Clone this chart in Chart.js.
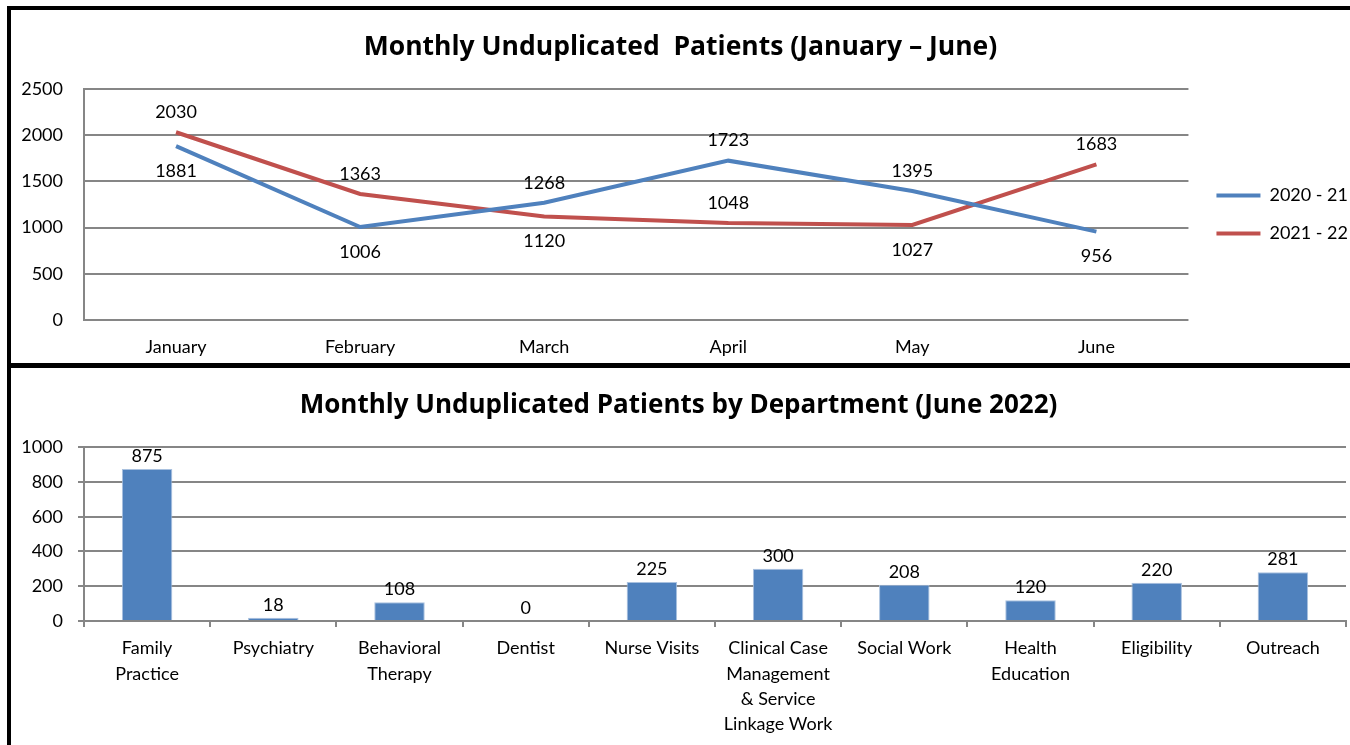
<!DOCTYPE html>
<html>
<head>
<meta charset="utf-8">
<script src="https://cdn.jsdelivr.net/npm/chart.js@4"></script>
<style>
  body { margin: 0; background: #fff; width: 1350px; height: 745px; overflow: hidden; position: relative; }
  .rule { position: absolute; background: #000; }
  canvas { position: absolute; }
</style>
</head>
<body>
<div class="rule" style="left:7px;top:6px;width:1343px;height:4px"></div>
<div class="rule" style="left:7px;top:6px;width:4px;height:739px"></div>
<div class="rule" style="left:7px;top:363px;width:1343px;height:5px"></div>
<canvas id="monthly" width="1339" height="353" style="left:11px;top:10px"></canvas>
<canvas id="dept" width="1339" height="377" style="left:11px;top:368px"></canvas>
<script>
// top chart data
const months = ['January', 'February', 'March', 'April', 'May', 'June'];
const year2021 = [1881, 1006, 1268, 1723, 1395, 956];
const year2122 = [2030, 1363, 1120, 1048, 1027, 1683];
const monthTicks = [0, 500, 1000, 1500, 2000, 2500];

// bottom chart data
const departments = [
  ['Family', 'Practice'], 'Psychiatry', ['Behavioral', 'Therapy'], 'Dentist', 'Nurse Visits',
  ['Clinical Case', 'Management', '& Service', 'Linkage Work'], 'Social Work',
  ['Health', 'Education'], 'Eligibility', 'Outreach'
];
const deptPatients = [875, 18, 108, 0, 225, 300, 208, 120, 220, 281];
const deptTicks = [0, 200, 400, 600, 800, 1000];

// where each value label sits relative to its point
const side2021 = ['below', 'below', 'above', 'above', 'above', 'below'];
const side2122 = ['above', 'above', 'below', 'above', 'below', 'above'];

const FONT = 'Lato';
const TITLE_FONT = 'Open Sans';
const GRID = '#868686';

const lineLabels = {
  id: 'lineLabels',
  afterDatasetsDraw(chart) {
    const ctx = chart.ctx;
    const sides = [side2021, side2122];
    ctx.save();
    ctx.font = '18px ' + FONT;
    ctx.fillStyle = '#000';
    ctx.textAlign = 'center';
    ctx.textBaseline = 'middle';
    chart.data.datasets.forEach((ds, i) => {
      chart.getDatasetMeta(i).data.forEach((pt, j) => {
        const dy = sides[i][j] === 'below' ? 25 : -20;
        ctx.fillText(ds.data[j], pt.x, pt.y + dy);
      });
    });
    ctx.restore();
  }
};

// nudge legend to where the original sits
const legendNudge = {
  id: 'legendNudge',
  afterLayout(chart) {
    const lg = chart.legend;
    lg.left += 8; lg.right += 8;
    lg.top += 10; lg.bottom += 10;
  }
};

const barLabels = {
  id: 'barLabels',
  afterDatasetsDraw(chart) {
    const ctx = chart.ctx;
    ctx.save();
    ctx.font = '18px ' + FONT;
    ctx.fillStyle = '#000';
    ctx.textAlign = 'center';
    ctx.textBaseline = 'middle';
    chart.getDatasetMeta(0).data.forEach((bar, j) => {
      ctx.fillText(chart.data.datasets[0].data[j], bar.x, bar.y - 13);
    });
    ctx.restore();
  }
};

const plain = v => String(v);

new Chart(document.getElementById('monthly'), {
  type: 'line',
  data: {
    labels: months,
    datasets: [{
      label: '2020 - 21',
      data: year2021,
      borderColor: '#4F81BD',
      backgroundColor: '#4F81BD',
      borderWidth: 4,
      pointRadius: 0,
      tension: 0
    }, {
      label: '2021 - 22',
      data: year2122,
      borderColor: '#C0504D',
      backgroundColor: '#C0504D',
      borderWidth: 4,
      pointRadius: 0,
      tension: 0
    }]
  },
  options: {
    responsive: false,
    animation: false,
    layout: { padding: 0 },
    plugins: {
      title: {
        display: true,
        text: 'Monthly Unduplicated  Patients (January \u2013 June)',
        color: '#000',
        font: { family: TITLE_FONT, size: 26.5, weight: 'bold', lineHeight: 1.2 },
        padding: { top: 22, bottom: 25 }
      },
      legend: {
        position: 'right',
        fullSize: false,
        labels: {
          usePointStyle: true,
          pointStyle: 'line',
          pointStyleWidth: 44,
          padding: 20,
          color: '#000',
          font: { family: FONT, size: 18 }
        }
      },
      tooltip: { enabled: false }
    },
    scales: {
      x: {
        offset: true,
        grid: { display: false },
        border: { display: false },
        ticks: { color: '#000', padding: 8, font: { family: FONT, size: 18 } },
        afterFit(s) { s.height = 43; }
      },
      y: {
        min: 0,
        max: 2500,
        afterBuildTicks(s) { s.ticks = monthTicks.map(v => ({ value: v })); },
        grid: { color: GRID, lineWidth: 2, drawTicks: false },
        border: { color: GRID, width: 2 },
        ticks: { color: '#000', padding: 21, callback: plain, font: { family: FONT, size: 18 } },
        afterFit(s) { s.width = 73; }
      }
    }
  },
  plugins: [lineLabels, legendNudge]
});

new Chart(document.getElementById('dept'), {
  type: 'bar',
  data: {
    labels: departments,
    datasets: [{
      label: 'Patients',
      data: deptPatients,
      backgroundColor: '#4F81BD',
      borderColor: '#A9C1DF',
      borderWidth: 1,
      categoryPercentage: 1,
      barPercentage: 0.4
    }]
  },
  options: {
    responsive: false,
    animation: false,
    layout: { padding: { right: 4 } },
    plugins: {
      title: {
        display: true,
        text: 'Monthly Unduplicated Patients by Department (June 2022)',
        color: '#000',
        font: { family: TITLE_FONT, size: 26, weight: 'bold', lineHeight: 1.2 },
        padding: { top: 22, bottom: 26 }
      },
      legend: { display: false },
      tooltip: { enabled: false }
    },
    scales: {
      x: {
        grid: { drawOnChartArea: false, color: GRID, lineWidth: 2, tickLength: 6 },
        border: { color: GRID, width: 2 },
        ticks: {
          color: '#000', padding: 9, maxRotation: 0, autoSkip: false,
          font: { family: FONT, size: 18, lineHeight: 1.4 }
        },
        afterFit(s) { s.height = 124; }
      },
      y: {
        min: 0,
        max: 1000,
        afterBuildTicks(s) { s.ticks = deptTicks.map(v => ({ value: v })); },
        grid: { color: GRID, lineWidth: 2, tickLength: 6 },
        border: { color: GRID, width: 2 },
        ticks: { color: '#000', padding: 15, callback: plain, font: { family: FONT, size: 18 } },
        afterFit(s) { s.width = 73; }
      }
    }
  },
  plugins: [barLabels]
});
</script>
</body>
</html>
